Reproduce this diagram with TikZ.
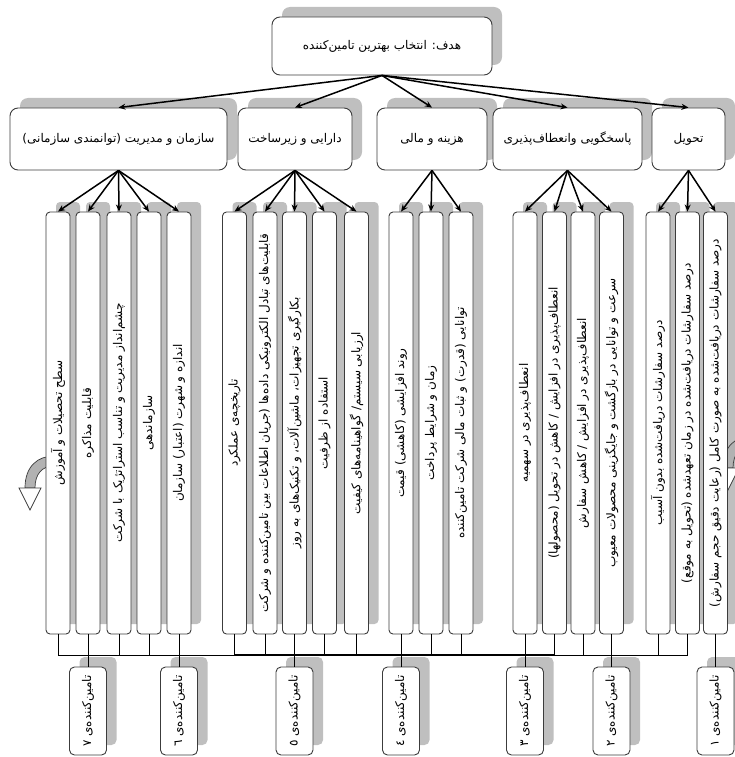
\documentclass[tikz,border=0pt]{standalone}
\usepackage{fontspec}
\usetikzlibrary{arrows.meta}
\TeXXeTstate=1
\newfontfamily\fafont[Script=Arabic]{DejaVu Sans}
\definecolor{shadowgrey}{RGB}{191,191,191}
\definecolor{edgegrey}{RGB}{60,60,60}
\newcommand\critshade[2]{\node[critshadow] (#1s) at (#2+10,413) {};}
\newcommand\critbox[3]{\node[crit] (#1) at (#2,423) {\rotatebox{90}{\fafont #3}};}
\newcommand\supbox[3]{%
  \node[supshadow] (#1s) at (#2+10,701) {};
  \node[sup] (#1) at (#2,711) {\rotatebox{90}{\fafont #3}};}
\newcommand\curvedarrow[2]{%
  \begin{scope}[shift={(#1,#2)}]
    \filldraw[fill=shadowgrey!80!gray, draw=edgegrey, line width=0.7pt]
      (24,-54) .. controls (8,-54) and (-5,-44) .. (-5,-22) -- (5,-22)
      .. controls (5,-36) and (12,-44) .. (24,-44) -- cycle;
    \filldraw[fill=white, draw=edgegrey, line width=0.7pt]
      (-11,-22) -- (0,0) -- (11,-22) -- cycle;
  \end{scope}}
\begin{document}
\begin{tikzpicture}[x=1pt,y=-1pt,
  font=\fontsize{12}{14}\selectfont,
  box/.style={draw=edgegrey, line width=0.9pt, fill=white, rounded corners=8pt, inner sep=0pt, font=\fontsize{12}{14}\selectfont\fafont},
  boxshadow/.style={fill=shadowgrey, rounded corners=8pt, inner sep=0pt},
  crit/.style={draw=edgegrey, line width=0.9pt, fill=white, rounded corners=4pt,
    minimum width=24pt, minimum height=422pt, inner sep=0pt},
  critshadow/.style={fill=shadowgrey, rounded corners=4pt,
    minimum width=24pt, minimum height=422pt, inner sep=0pt},
  sup/.style={draw=edgegrey, line width=0.9pt, fill=white, rounded corners=5pt,
    minimum width=37pt, minimum height=88pt, inner sep=0pt},
  supshadow/.style={fill=shadowgrey, rounded corners=5pt,
    minimum width=37pt, minimum height=88pt, inner sep=0pt},
  arr/.style={-{Stealth[length=7pt,width=6pt]}, line width=1.5pt, black},
  wire/.style={line width=0.8pt, black},
  thickwire/.style={line width=2.6pt, black}]
\useasboundingbox (0,0) rectangle (735,757);

% ---- goal ----
\node[boxshadow, minimum width=220pt, minimum height=58pt] (goals) at (392,36) {};
\node[box, minimum width=220pt, minimum height=58pt] (goal) at (382,46)
  {\beginR هدف: انتخاب بهترین تامین‌کننده\endR};

% ---- main criteria ----
\node[boxshadow, minimum width=217pt, minimum height=62pt] (As) at (128.5,129) {};
\node[box, minimum width=217pt, minimum height=62pt] (A) at (118.5,139)
  {\beginR سازمان و مدیریت (توانمندی سازمانی)\endR};
\node[boxshadow, minimum width=114pt, minimum height=62pt] (Bs) at (305,129) {};
\node[box, minimum width=114pt, minimum height=62pt] (B) at (295,139)
  {\beginR دارایی و زیرساخت\endR};
\node[boxshadow, minimum width=110pt, minimum height=62pt] (Cs) at (442,129) {};
\node[box, minimum width=110pt, minimum height=62pt] (C) at (432,139)
  {\beginR هزینه و مالی\endR};
\node[boxshadow, minimum width=149pt, minimum height=62pt] (Ds) at (577.5,129) {};
\node[box, minimum width=149pt, minimum height=62pt] (D) at (567.5,139)
  {\beginR پاسخگویی وانعطاف‌پذیری\endR};
\node[boxshadow, minimum width=73pt, minimum height=62pt] (Es) at (698.5,129) {};
\node[box, minimum width=73pt, minimum height=62pt] (E) at (688.5,139)
  {\beginR تحویل\endR};

% ---- sub-criteria shadows ----
\critshade{a1}{58}\critshade{a2}{88}\critshade{a3}{119}\critshade{a4}{149}\critshade{a5}{179}
\critshade{b1}{234.5}\critshade{b2}{265}\critshade{b3}{294.5}\critshade{b4}{324.5}\critshade{b5}{356.5}
\critshade{c1}{401}\critshade{c2}{431}\critshade{c3}{461}
\critshade{d1}{525}\critshade{d2}{554.5}\critshade{d3}{583}\critshade{d4}{611.5}
\critshade{e1}{658}\critshade{e2}{687.5}\critshade{e3}{715.5}

% ---- decorative curved arrows ----
\curvedarrow{30}{510}
\curvedarrow{728}{490}

% ---- sub-criteria ----
\critbox{a1}{58}{\beginR سطح تحصیلات و آموزش\endR}
\critbox{a2}{88}{\beginR قابلیت مذاکره\endR}
\critbox{a3}{119}{\beginR چشم‌انداز مدیریت و تناسب استراتژیک با شرکت\endR}
\critbox{a4}{149}{\beginR سازماندهی\endR}
\critbox{a5}{179}{\beginR اندازه و شهرت (اعتبار) سازمان\endR}
\critbox{b1}{234.5}{\beginR تاریخچه‌ی عملکرد\endR}
\critbox{b2}{265}{\beginR قابلیت‌های تبادل الکترونیکی داده‌ها (جریان اطلاعات بین تامین‌کننده و شرکت\endR}
\critbox{b3}{294.5}{\beginR بکارگیری تجهیزات، ماشین‌آلات، و تکنیک‌های به روز\endR}
\critbox{b4}{324.5}{\beginR استفاده از ظرفیت\endR}
\critbox{b5}{356.5}{\beginR ارزیابی سیستم/ گواهینامه‌های کیفیت\endR}
\critbox{c1}{401}{\beginR روند افزایشی (کاهشی) قیمت\endR}
\critbox{c2}{431}{\beginR زمان و شرایط پرداخت\endR}
\critbox{c3}{461}{\beginR توانایی (قدرت) و ثبات مالی شرکت تامین‌کننده\endR}
\critbox{d1}{525}{\beginR انعطاف‌پذیری در سهمیه\endR}
\critbox{d2}{554.5}{\beginR انعطاف‌پذیری در افزایش / کاهش در تحویل (محصولها)\endR}
\critbox{d3}{583}{\beginR انعطاف‌پذیری در افزایش / کاهش سفارش\endR}
\critbox{d4}{611.5}{\beginR سرعت و توانایی در بازگشت و جایگزینی محصولات معیوب\endR}
\critbox{e1}{658}{\beginR درصد سفارشات دریافت‌شده بدون آسیب\endR}
\critbox{e2}{687.5}{\beginR درصد سفارشات دریافت‌شده در زمان تعهدشده (تحویل به موقع)\endR}
\critbox{e3}{715.5}{\beginR درصد سفارشات دریافت‌شده به صورت کامل (رعایت دقیق حجم سفارش)\endR}

% ---- suppliers ----
\supbox{s7}{88}{\beginR تامین‌کننده‌ی ٧\endR}
\supbox{s6}{179}{\beginR تامین‌کننده‌ی ٦\endR}
\supbox{s5}{294.5}{\beginR تامین‌کننده‌ی ٥\endR}
\supbox{s4}{401}{\beginR تامین‌کننده‌ی ٤\endR}
\supbox{s3}{525}{\beginR تامین‌کننده‌ی ٣\endR}
\supbox{s2}{611.5}{\beginR تامین‌کننده‌ی ٢\endR}
\supbox{s1}{715.5}{\beginR تامین‌کننده‌ی ١\endR}

% ---- bus ----
\coordinate (busY) at (0,655);
\draw[wire] (a1.south |- busY) -- (e2.south |- busY);
\draw[thickwire] (b1.south |- busY) -- (d2.south |- busY);
\foreach \n in {a1,a3,a4,b1,b2,b4,b5,c2,c3,d2,d3,e1,e2}
  \draw[wire] (\n.south) -- (\n.south |- busY);
\draw[wire] (a2.south) -- (s7.north);
\draw[wire] (a5.south) -- (s6.north);
\draw[wire] (b3.south) -- (s5.north);
\draw[wire] (c1.south) -- (s4.north);
\draw[wire] (d1.south) -- (s3.north);
\draw[wire] (d4.south) -- (s2.north);
\draw[wire] (e3.south) -- (s1.north);

% ---- arrows ----
\foreach \n in {A,B,C,D,E} \draw[arr] (goal.south) -- (\n.north);
\foreach \n in {a1,a2,a3,a4,a5} \draw[arr] (A.south) -- (\n.north);
\foreach \n in {b1,b2,b3,b4,b5} \draw[arr] (B.south) -- (\n.north);
\foreach \n in {c1,c2,c3} \draw[arr] (C.south) -- (\n.north);
\foreach \n in {d1,d2,d3,d4} \draw[arr] (D.south) -- (\n.north);
\foreach \n in {e1,e2,e3} \draw[arr] (E.south) -- (\n.north);
\end{tikzpicture}
\end{document}
